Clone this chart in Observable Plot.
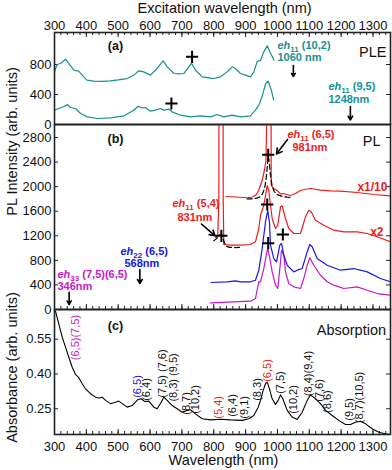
<!DOCTYPE html>
<html><head><meta charset="utf-8">
<script src="https://cdn.jsdelivr.net/npm/d3@7"></script>
<script src="https://cdn.jsdelivr.net/npm/@observablehq/plot@0.6"></script>
<style>
body{margin:0;background:#fff;}
#chart{position:relative;width:392px;height:470px;}
</style></head><body><div id="chart"></div>
<script>
// ---------- tick labels ----------
const xTickLabels = [300,400,500,600,700,800,900,1000,1100,1200,1300];
const pleTickLabels = ["0","400","800"];
const plTickLabels = ["0","400","800","1200","1600","2000","2400","2800"];
const absTickLabels = ["0.25","0.40","0.55"];

// ---------- (a) PLE spectra ----------
const pleDet1060W = [300,308,319,335,345,361,376,392,402,423,450,476,500,528,549,565,580,601,622,641,654,675,690,706,722,730,743,764,800,821,842,858,868,884,900,915,926,936,947,957,968,976,984,989];
const pleDet1060V = [702,800,813,871,813,724,711,636,591,578,575,582,595,613,658,716,702,658,747,849,769,680,675,680,769,818,724,636,613,636,702,769,747,680,658,636,702,836,858,969,1049,969,902,858];
const pleDet1248W = [300,313,329,340,350,366,382,403,434,476,518,549,563,575,586,601,617,633,643,659,669,696,727,758,790,811,832,858,884,915,931,942,953,963,971,977,981,988];
const pleDet1248V = [191,213,236,267,227,213,147,102,80,89,116,191,244,222,227,178,191,213,191,204,169,124,102,116,102,133,102,124,102,116,191,258,391,547,578,502,458,324];
const pleCrosses = [{w:732, v:902}, {w:667, v:280}];
const pleNotes = [
  {text:"eh11 (10,2)", w:1000, v:1053},
  {text:"1060 nm", w:1000, v:893},
  {text:"eh11 (9,5)", w:1160, v:507},
  {text:"1248nm", w:1160, v:333}
];
const pleArrows = [{w:1050, v1:787, v2:640}, {w:1229, v1:240, v2:60}];

// ---------- (b) PL spectra ----------
const plEx981W = [839,868,905,922,934,941,952,959,964,966,967,980,980.4,988.7,999.4,1009.6,1019,1041,1057,1072,1088,1104,1119,1135,1167,1198,1250,1303,1355];
const plEx981V = [1840,1832,1819,1832,1872,1937,2100,2263,2426,3012,3400,3400,2024,1965,1937,1883,1888,1856,1888,1937,1958,1970,1958,1943,1932,1927,1905,1872,1850];
const plEx831W = [805.5,812.7,816,816.5,829.4,829.7,831.6,852.6,884,915.4,931,941.5,946.8,957.1,962.5,967.8,972.8,978.2,983.5,993.9,1001.1,1009.6,1014.9,1025.3,1035.6,1051.3,1072.4,1088,1098.4,1106,1119.5,1145.5,1176.9,1208.3,1250.4,1281.8,1313.2,1354.9];
const plEx831V = [1172,1200,1775,3400,3400,1775,1058,1047,1047,1058,1102,1319,1535,1698,1856,2019,1937,1698,1482,1319,1373,1672,1688,1482,1319,1237,1237,1509,1617,1591,1454,1373,1291,1265,1265,1237,1184,1102];
const plEx568W = [792,842,868.3,884,915.4,931,941.5,952.2,962.5,969.7,975,978.2,988.6,997,1007.4,1012.7,1020,1030.6,1051.3,1062,1077.7,1093.4,1101.6,1109.1,1124.8,1156.2,1198,1239.7,1281.8,1323.5,1354.9];
const plEx568V = [440,451,467,451,451,477,640,993,1428,1612,1416,1047,830,776,1047,1075,884,721,613,640,667,939,1058,1021,830,721,640,667,613,504,451];
const plEx346W = [789.8,863,915.4,931.1,935.8,941.5,946.8,957.1,967.8,969.7,975,983.5,993.9,1001.1,1009.6,1012.7,1020,1025.3,1035.6,1051.3,1072.4,1082.7,1093.4,1101.6,1114.1,1135.2,1156.2,1177.1,1208.5,1250.4,1281.8,1313.2,1354.9];
const plEx346V = [109,125,135,179,309,451,451,667,965,988,863,613,396,342,776,965,884,613,423,369,342,504,721,842,721,558,451,396,342,369,314,260,233];
const fit831W = [800,808,814,819,824,828,833,840,850,865,882];
const fit831V = [1120,1150,1185,1215,1230,1190,1090,1030,1012,1008,1012];
const fit981W = [905,920,935,945,953,960,965,969,971,974,978,983,990,1000,1015,1030,1042];
const fit981V = [1800,1800,1812,1835,1880,1980,2150,2380,2500,2400,2200,2020,1920,1870,1840,1830,1825];
const plCrosses = [{w:971,v:2518},{w:824,v:1200},{w:968,v:1709},{w:971,v:1080},{w:1017,v:1221}];
const plNotes = [
  {text:"eh11 (6,5)", w:1031.6, v:2849, ex:"981"},
  {text:"981nm", w:1047.3, v:2642, ex:"981"},
  {text:"eh11 (5,4)", w:670.5, v:1721, ex:"831"},
  {text:"831nm", w:686.2, v:1503, ex:"831"},
  {text:"eh22 (6,5)", w:507.2, v:949, ex:"568"},
  {text:"568nm", w:519.8, v:744, ex:"568"},
  {text:"eh33 (7,5)(6,5)", w:309.4, v:565, ex:"346"},
  {text:"346nm", w:309.4, v:374, ex:"346"}
];
const plScaleNotes = [{text:"x1/10", w:1345.5, v:1991}, {text:"x2", w:1333, v:1258}];
const plArrows = [
  {w1:1031.6, v1:2768, w2:997, v2:2532},
  {w1:761.5, v1:1392, w2:804, v2:1200},
  {w1:568, v1:651, w2:568, v2:423},
  {w1:346, v1:282, w2:346, v2:81}
];

// ---------- (c) absorption ----------
const absW = [303,313.5,324.2,334.5,344.9,355.6,365.9,376.3,387,397.3,413,428.7,439.1,449.8,460.1,475.8,491.5,501.9,512.6,528.3,544,561.5,572.2,583.5,596.1,611.8,622.4,635,643.2,653.8,669.5,685.2,701,716.7,727,742.7,763.7,789.8,821.2,852.6,889.3,910,925.7,939.6,946.8,955.3,962.5,967.8,975,983.5,993.9,1002.4,1009.6,1016.8,1030.6,1046.3,1062,1077.7,1093.4,1103.8,1119.5,1135.2,1150.9,1171.9,1192.6,1213.7,1229.3,1245,1260.7,1276.5,1297.5,1318.2,1339,1354.9];
const absV = [0.671,0.616,0.559,0.516,0.472,0.429,0.398,0.384,0.358,0.336,0.315,0.300,0.296,0.300,0.286,0.272,0.278,0.283,0.272,0.257,0.264,0.289,0.293,0.281,0.283,0.257,0.250,0.278,0.300,0.286,0.264,0.250,0.235,0.243,0.246,0.228,0.207,0.202,0.205,0.202,0.200,0.207,0.221,0.257,0.286,0.329,0.358,0.365,0.336,0.293,0.269,0.286,0.310,0.293,0.243,0.214,0.204,0.235,0.286,0.310,0.293,0.272,0.243,0.221,0.200,0.182,0.182,0.192,0.196,0.185,0.164,0.149,0.142,0.139];
const absLabelText = ["(6,5)(7,5)","(6,5)","(6,4)","(7,5) (7,6)","(8,3) (9,5)","(8,7)","(10,2)","(5,4)","(6,4)","(9,1)","(8,3)","(6,5)","(7,5)","(10,2)","(8,4)(9,4)","(7,6)","(8,6)","(9,5)","(8,7)(10,5)"];
const absLabelW = [365.9,560.6,588.9,638.2,674.6,712.9,741.1,815.9,858.9,895,935.8,967.5,1009.6,1051.6,1099,1132,1157.1,1226.2,1256];
const absLabelA = [0.557,0.346,0.333,0.402,0.385,0.273,0.290,0.256,0.264,0.256,0.333,0.415,0.363,0.290,0.402,0.329,0.281,0.247,0.299];
const absLabelEx = ["346","568","","","","","","831","","","","981","","","","","","",""];

const panelLetters = [{text:"(a)", w:491.5, v:1053}, {text:"(b)", w:491.5, v:2784}, {text:"(c)", w:491.5, v:0.605}];
const panelNames = [{text:"PLE", w:1342.4, v:960}, {text:"PL", w:1323.5, v:2735}, {text:"Absorption", w:1341, v:0.588}];

// ---------- drawing ----------
const FONT = '"Liberation Sans", Arial, Helvetica, sans-serif';
const TEAL = "#17918f", AX = "#222";
const exColor = {"981":"#ee1c1c","831":"#ee1c1c","568":"#1717e8","346":"#c817c8","":"#111"};
const W = 392, ML = 54, MR = 2, FW = W - ML - MR, PAD = 8;
const xDomain = [300, 1355];
const minorX = d3.range(300, 1355, 20);
const zip = (ws, vs) => ws.map((w, i) => ({w, v: vs[i]}));

function frameTicks(H, yTicks, top, bottom) {
  const m = [];
  if (top) {
    m.push(Plot.tickX(minorX, {x: d => d, insetBottom: H - 3, stroke: AX}));
    m.push(Plot.tickX(xTickLabels, {x: d => d, insetBottom: H - 5, stroke: AX}));
  }
  if (bottom) {
    m.push(Plot.tickX(minorX, {x: d => d, insetTop: H - 3, stroke: AX}));
    m.push(Plot.tickX(xTickLabels, {x: d => d, insetTop: H - 5, stroke: AX}));
  }
  const yt = yTicks.map(Number).filter(v => v > 0);
  m.push(Plot.tickY(yt, {y: d => d, insetRight: FW - 4, stroke: AX}));
  m.push(Plot.tickY(yt, {y: d => d, insetLeft: FW - 4, stroke: AX}));
  return m;
}
const yLabels = labels => Plot.text(labels.map(s => ({s, v: Number(s)})), {y: "v", text: "s", frameAnchor: "left", textAnchor: "end", lineAnchor: "middle", dx: -3, fontSize: 13, fill: "#111"});
const baseStyle = top => ({fontFamily: FONT, fontSize: "13px", background: "transparent", overflow: "visible", color: "#111", position: "absolute", left: "0px", top: top + "px"});
const crossOpts = {x: "w", y: "v", symbol: "plus", r: 4, stroke: "#000", fill: "none", strokeWidth: 2};
const centered = {textAnchor: "middle", lineAnchor: "middle", fontSize: 14.5, fill: "#111"};

function subscriptEh(svg) {
  const ns = "http://www.w3.org/2000/svg";
  svg.querySelectorAll("text").forEach(t => {
    const m = /^eh(\d\d)(.*)$/.exec(t.textContent);
    if (!m || t.children.length) return;
    t.textContent = "";
    const a = document.createElementNS(ns, "tspan"); a.setAttribute("font-style", "italic"); a.textContent = "eh";
    const b = document.createElementNS(ns, "tspan"); b.setAttribute("font-size", "8"); b.setAttribute("dy", "3"); b.textContent = m[1];
    const c = document.createElementNS(ns, "tspan"); c.setAttribute("dy", "-3"); c.textContent = m[2];
    t.append(a, b, c);
  });
  return svg;
}

// panel (a): frame y 32..124
const svgA = Plot.plot({
  width: W, height: 124 + PAD, marginTop: 32, marginBottom: PAD, marginLeft: ML, marginRight: MR,
  style: baseStyle(0),
  x: {domain: xDomain}, y: {domain: [0, 1227], axis: null},
  marks: [
    ...frameTicks(92, pleTickLabels, true, false),
    Plot.line(zip(pleDet1060W, pleDet1060V), {x: "w", y: "v", stroke: TEAL, strokeWidth: 1.2}),
    Plot.line(zip(pleDet1248W, pleDet1248V), {x: "w", y: "v", stroke: TEAL, strokeWidth: 1.2}),
    Plot.dot(pleCrosses, crossOpts),
    Plot.text(pleNotes, {x: "w", y: "v", text: "text", textAnchor: "start", fill: TEAL, fontWeight: "bold", fontSize: 11}),
    Plot.arrow(pleArrows, {x1: "w", x2: "w", y1: "v1", y2: "v2", stroke: "#000", strokeWidth: 1.6, headLength: 6}),
    Plot.text(panelLetters.slice(0, 1), {x: "w", y: "v", text: "text", fontWeight: "bold", fontSize: 12.5, fill: "#111"}),
    Plot.text(panelNames.slice(0, 1), {x: "w", y: "v", text: "text", fontSize: 14.5, textAnchor: "end", fill: "#111"}),
    Plot.axisX({anchor: "top", ticks: xTickLabels, tickSize: 0, tickPadding: 3, tickFormat: d => String(d), label: null}),
    yLabels(pleTickLabels),
    Plot.text(["Excitation wavelength (nm)"], {...centered, text: d => d, frameAnchor: "top", dy: -24, dx: 2}),
    Plot.frame({stroke: AX, strokeWidth: 1.6})
  ]
});

// panel (b): frame y 124..309
const plLine = {x: "w", y: "v", strokeWidth: 1.2, clip: true};
const svgB = Plot.plot({
  width: W, height: 185 + PAD, marginTop: 0, marginBottom: PAD, marginLeft: ML, marginRight: MR,
  style: baseStyle(124),
  x: {domain: xDomain, axis: null}, y: {domain: [0, 3012], axis: null},
  marks: [
    ...frameTicks(185, plTickLabels, false, true),
    Plot.line(zip(plEx346W, plEx346V), {...plLine, stroke: exColor["346"]}),
    Plot.line(zip(plEx568W, plEx568V), {...plLine, stroke: exColor["568"]}),
    Plot.line(zip(plEx831W, plEx831V), {...plLine, stroke: exColor["831"]}),
    Plot.line(zip(plEx981W, plEx981V), {...plLine, stroke: exColor["981"]}),
    Plot.line(zip(fit831W, fit831V), {x: "w", y: "v", stroke: "#000", strokeWidth: 1.2, strokeDasharray: "5,3"}),
    Plot.line(zip(fit981W, fit981V), {x: "w", y: "v", stroke: "#000", strokeWidth: 1.2, strokeDasharray: "5,3"}),
    Plot.dot(plCrosses, crossOpts),
    Plot.arrow(plArrows, {x1: "w1", y1: "v1", x2: "w2", y2: "v2", stroke: "#000", strokeWidth: 1.6, headLength: 6}),
    Plot.text(plNotes, {x: "w", y: "v", text: "text", textAnchor: "start", fill: d => exColor[d.ex], fontWeight: "bold", fontSize: 11}),
    Plot.text(plScaleNotes, {x: "w", y: "v", text: "text", textAnchor: "end", fill: exColor["831"], fontWeight: "bold", fontSize: 12}),
    Plot.text(panelLetters.slice(1, 2), {x: "w", y: "v", text: "text", fontWeight: "bold", fontSize: 12.5, fill: "#111"}),
    Plot.text(panelNames.slice(1, 2), {x: "w", y: "v", text: "text", fontSize: 14.5, textAnchor: "end", fill: "#111"}),
    yLabels(plTickLabels),
    Plot.text(["PL Intensity (arb. units)"], {...centered, text: d => d, frameAnchor: "top-left", dx: -42, dy: 17, rotate: -90}),
    Plot.frame({stroke: AX, strokeWidth: 1.6})
  ]
});

// panel (c): frame y 309..434
const absLabels = absLabelText.map((t, i) => ({text: t, w: absLabelW[i], v: absLabelA[i], ex: absLabelEx[i]}));
const svgC = Plot.plot({
  width: W, height: 161, marginTop: 0, marginBottom: 36, marginLeft: ML, marginRight: MR,
  style: baseStyle(309),
  x: {domain: xDomain}, y: {domain: [0.139, 0.678], axis: null},
  marks: [
    ...frameTicks(125, absTickLabels, false, true),
    Plot.line(zip(absW, absV), {x: "w", y: "v", stroke: "#000", strokeWidth: 1.1}),
    Plot.text(absLabels, {x: "w", y: "v", text: "text", rotate: -90, fill: d => exColor[d.ex], fontSize: 11}),
    Plot.text(panelLetters.slice(2), {x: "w", y: "v", text: "text", fontWeight: "bold", fontSize: 12.5, fill: "#111"}),
    Plot.text(panelNames.slice(2), {x: "w", y: "v", text: "text", fontSize: 14.5, textAnchor: "end", fill: "#111"}),
    Plot.axisX({anchor: "bottom", ticks: xTickLabels, tickSize: 0, tickPadding: 7, tickFormat: d => String(d), label: null}),
    yLabels(absTickLabels),
    Plot.text(["Wavelength (nm)"], {...centered, text: d => d, frameAnchor: "bottom", dy: 26, dx: 1}),
    Plot.text(["Absorbance (arb. units)"], {...centered, text: d => d, frameAnchor: "left", dx: -42, dy: -4.5, rotate: -90}),
    Plot.frame({stroke: AX, strokeWidth: 1.6})
  ]
});

const chart = document.getElementById("chart");
chart.append(subscriptEh(svgA), subscriptEh(svgB), subscriptEh(svgC));
</script></body></html>
